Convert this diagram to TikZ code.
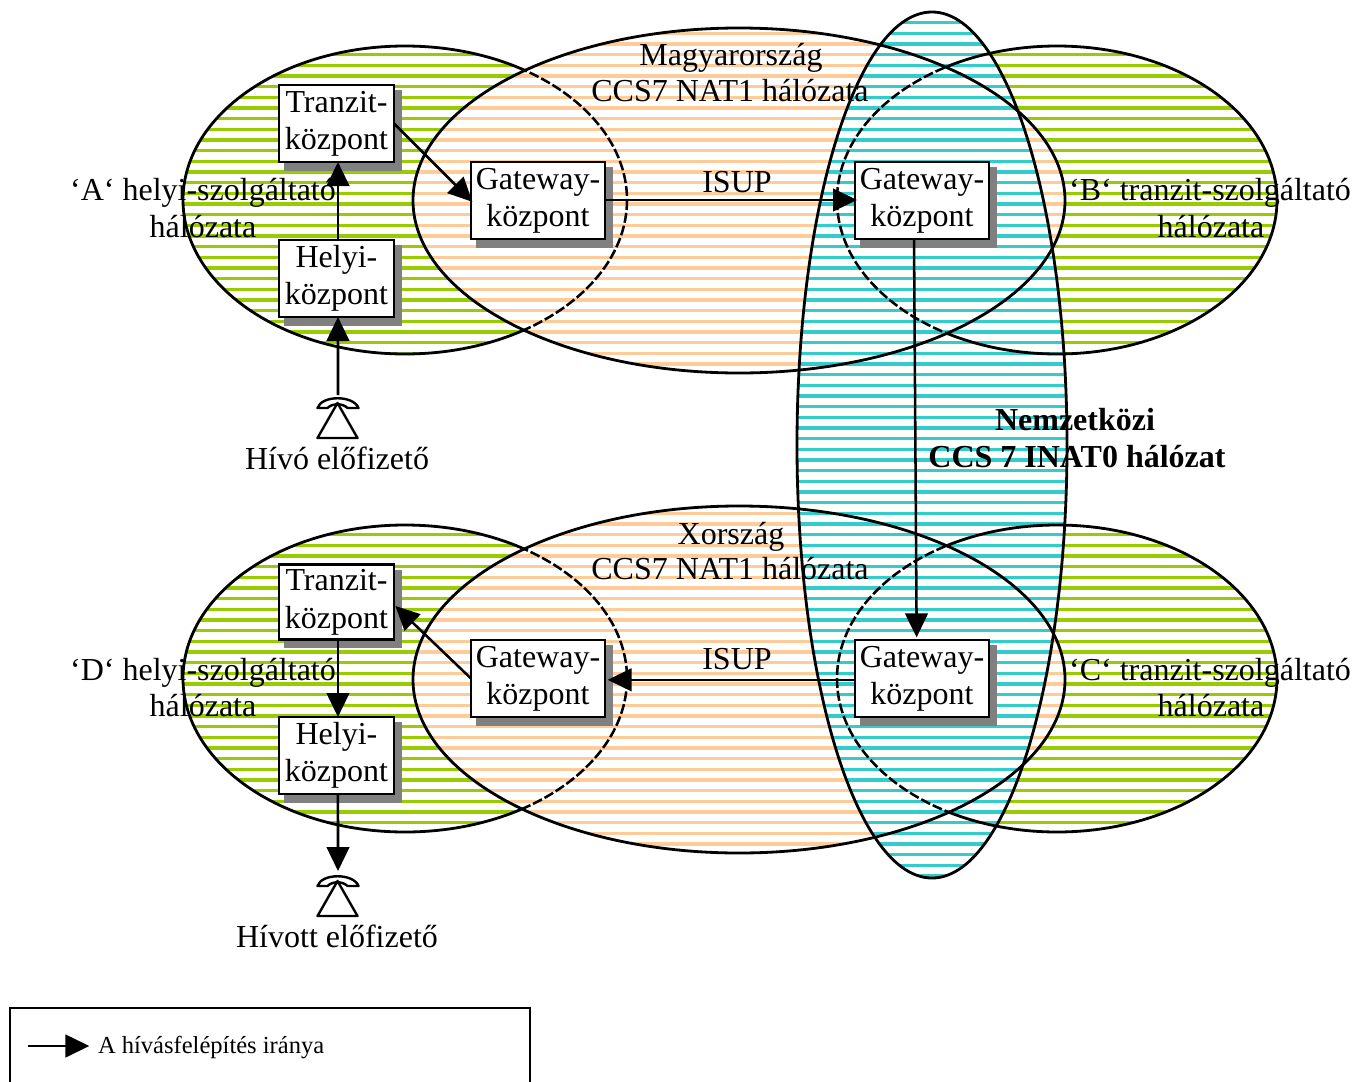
\documentclass[tikz,border=0pt]{standalone}
\usepackage{fontspec}
\setmainfont{Liberation Serif}
\usetikzlibrary{arrows.meta}
\definecolor{sgreen}{HTML}{99CC00}
\definecolor{sorange}{HTML}{FFCC99}
\definecolor{scyan}{HTML}{33CCCC}
\definecolor{sgray}{HTML}{808080}
\tikzset{
  outl/.style={draw=black,line width=2.1pt},
  dashl/.style={draw=black,line width=1.9pt,dash pattern=on 7.5pt off 2.2pt},
  box/.style={draw=black,fill=white,line width=2pt,inner sep=0pt,outer sep=0pt,
    font=\fontsize{24}{28}\selectfont},
  lab/.style={inner sep=0pt,outer sep=0pt,anchor=base,font=\fontsize{24}{27}\selectfont},
  boldlab/.style={lab,font=\fontsize{24}{27}\selectfont\bfseries},
  arr/.style={draw=black,line width=1.9pt,-{Triangle[length=18pt,width=17pt]}},
  phoneline/.style={draw=black,line width=1.8pt,line join=round}
}
\newcommand\ellA{(405,200) ellipse [x radius=222,y radius=154]}
\newcommand\ellB{(1057,200) ellipse [x radius=220,y radius=154]}
\newcommand\ellO{(739,200.5) ellipse [x radius=326,y radius=172.5]}
\newcommand\ellD{(405,678.5) ellipse [x radius=222,y radius=153.5]}
\newcommand\ellC{(1057,678.5) ellipse [x radius=220,y radius=153.5]}
\newcommand\ellP{(739,679.5) ellipse [x radius=326,y radius=173.5]}
\newcommand\ellI{(932,445) ellipse [x radius=135,y radius=433]}
\newcommand\stripes[2]{%
  \begin{scope}
    \clip #1;
    \fill[white] #1;
    \foreach \n in {0,...,81}{
      \pgfmathsetmacro\yy{22.67+\n*10.6667}
      \draw[#2,line width=2.5pt] (150,\yy) -- (1300,\yy);
    }
  \end{scope}}
\newcommand\zbox[6]{%
  \fill[sgray] ({#2+5},{#3+5}) rectangle ({#4+8},{#5+9});
  \pgfmathsetmacro\bw{(#4-#2)*0.75}
  \pgfmathsetmacro\bh{(#5-#3)*0.75}
  \node[box,minimum width=\bw pt,minimum height=\bh pt] (#1) at ({(#2+#4)/2},{(#3+#5)/2})
    {\raisebox{-0.8pt}{\begin{tabular}{@{}c@{}}#6\end{tabular}}};}
\newcommand\phone[1]{%
  \begin{scope}[shift={(#1)}]
    \draw[phoneline] (-20,11) .. controls (-16,-2) and (16,-2) .. (21,11)
       -- (10,11) .. controls (5,6) and (-5,6) .. (-10,11) -- cycle;
    \draw[phoneline] (0,6) -- (-20,41) -- (20,41) -- cycle;
  \end{scope}}
\begin{document}
\begin{tikzpicture}[x=0.75pt,y=-0.75pt]
\useasboundingbox (0,0) rectangle (1355,1081);
% fills
\stripes{\ellA}{sgreen}
\stripes{\ellB}{sgreen}
\stripes{\ellD}{sgreen}
\stripes{\ellC}{sgreen}
\stripes{\ellO}{sorange}
\stripes{\ellP}{sorange}
\stripes{\ellI}{scyan}
% solid parts of outlines (outside national ellipses)
\begin{scope}[even odd rule]
  \clip (0,0) rectangle (1355,1081) \ellO;
  \draw[outl] \ellA;
  \draw[outl] \ellB;
\end{scope}
\begin{scope}[even odd rule]
  \clip (0,0) rectangle (1355,1081) \ellP;
  \draw[outl] \ellD;
  \draw[outl] \ellC;
\end{scope}
% dashed parts
\begin{scope}
  \clip \ellO;
  \draw[dashl] \ellA;
  \draw[dashl] \ellB;
\end{scope}
\begin{scope}
  \clip \ellP;
  \draw[dashl] \ellD;
  \draw[dashl] \ellC;
\end{scope}
\draw[outl] \ellO;
\draw[outl] \ellP;
\draw[outl] \ellI;
% labels
\node[lab] (la1) at (203,200) {‘A‘ helyi-szolgáltató};
\node[lab] (la2) at (203,237) {hálózata};
\node[lab] (lb1) at (1210,200) {‘B‘ tranzit-szolgáltató};
\node[lab] (lb2) at (1211,237) {hálózata};
\node[lab] (ld1) at (203,680) {‘D‘ helyi-szolgáltató};
\node[lab] (ld2) at (203,716) {hálózata};
\node[lab] (lc1) at (1210,680) {‘C‘ tranzit-szolgáltató};
\node[lab] (lc2) at (1211,716) {hálózata};
\node[lab] (lm1) at (731,65) {Magyarország};
\node[lab] (lm2) at (730,101) {CCS7 NAT1 hálózata};
\node[lab] (lx1) at (731,544) {Xország};
\node[lab] (lx2) at (730,579) {CCS7 NAT1 hálózata};
\node[lab] (li1) at (737,192) {ISUP};
\node[lab] (li2) at (737,669) {ISUP};
\node[boldlab] (ln1) at (1075,430) {Nemzetközi};
\node[boldlab] (ln2) at (1077,467) {CCS 7 INAT0 hálózat};
\node[lab] (lh1) at (337,469) {Hívó előfizető};
\node[lab] (lh2) at (337,947) {Hívott előfizető};
% boxes
\zbox{t1}{279}{85}{394}{162}{Tranzit-\\központ}
\zbox{h1}{279}{240}{394}{317}{Helyi-\\központ}
\zbox{g1}{471}{162}{605}{239}{Gateway-\\központ}
\zbox{g2}{855}{162}{989}{239}{Gateway-\\központ}
\zbox{t2}{279}{565}{394}{639}{Tranzit-\\központ}
\zbox{h2}{279}{717}{394}{794}{Helyi-\\központ}
\zbox{g3}{471}{640}{605}{717}{Gateway-\\központ}
\zbox{g4}{855}{640}{989}{717}{Gateway-\\központ}
% phones
\coordinate (p1) at (338,395);
\coordinate (p2) at (338,871);
\phone{337.5,397}
\phone{337.5,875}
% connectors
\draw[arr] (p1) -- ([xshift=1.1pt]h1.south);
\draw[arr] ([xshift=1.1pt]h1.north) -- ([xshift=1.1pt]t1.south);
\draw[arr] (t1.east) -- ([xshift=1pt,yshift=-1pt]g1.west);
\draw[arr] ([yshift=.4pt]g1.east) -- ([xshift=1.5pt,yshift=.4pt]g2.west);
\draw[arr] ([xshift=-6pt]g2.south) -- ([xshift=-4pt,yshift=2pt]g4.north);
\draw[arr] ([yshift=-1pt]g4.west) -- ([xshift=2pt,yshift=-1pt]g3.east);
\draw[arr] (g3.west) -- ([yshift=-3pt,xshift=1pt]t2.east);
\draw[arr] ([xshift=1.1pt]t2.south) -- ([xshift=1.1pt]h2.north);
\draw[arr] ([xshift=1.1pt]h2.south) -- (p2);
% legend
\draw[draw=black,line width=1.8pt] (10,1085) -- (10,1008) -- (530,1008) -- (530,1085);
\coordinate (la) at (28,1046);
\node[lab,anchor=base west,font=\fontsize{18.4}{20}\selectfont] (lt) at (98,1053) {A hívásfelépítés iránya};
\draw[arr] (la) -- ([xshift=-6.5pt]lt.base west |- la);
\end{tikzpicture}
\end{document}
